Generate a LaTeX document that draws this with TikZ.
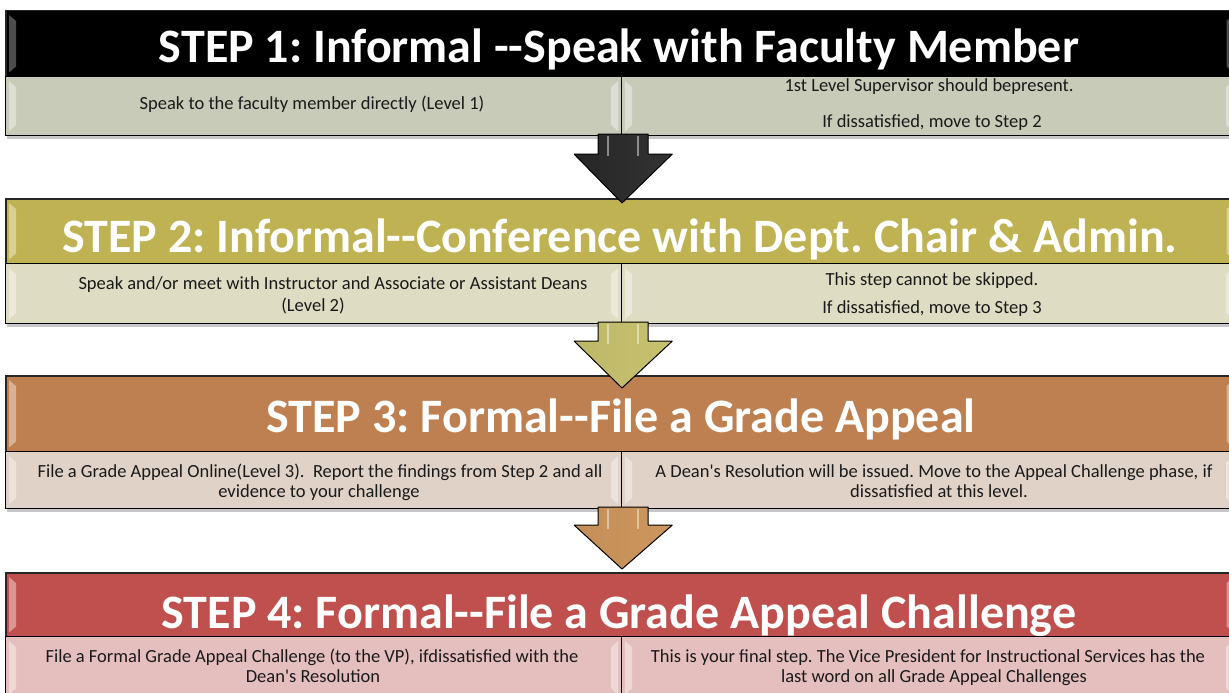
\documentclass[tikz,border=0pt]{standalone}
\usepackage{fontspec}
\setmainfont{Carlito}[Ligatures=TeXOff]
\usetikzlibrary{calc}
\frenchspacing
\definecolor{hdrone}{HTML}{000000}
\definecolor{cellone}{HTML}{C7CBB8}
\definecolor{hdrtwo}{HTML}{BFB253}
\definecolor{celltwo}{HTML}{DEDCC2}
\definecolor{hdrthree}{HTML}{BE8050}
\definecolor{cellthree}{HTML}{E0D2C6}
\definecolor{hdrfour}{HTML}{C0504D}
\definecolor{cellfour}{HTML}{E5BFBE}
\definecolor{txtc}{HTML}{1A1A1A}
\definecolor{arrtwo}{HTML}{D2CC74}
\definecolor{arrthree}{HTML}{D89E62}
\newcommand\bevelL[2]{\fill[#2] ($(#1.north west)+(4,5)$) -- ($(#1.north west)+(11,11)$) -- ($(#1.south west)+(11,-11)$) -- ($(#1.south west)+(4,-5)$) -- cycle;}
\newcommand\bevelR[2]{\fill[#2] ($(#1.north east)+(-4,5)$) -- ($(#1.north east)+(-11,11)$) -- ($(#1.south east)+(-11,-11)$) -- ($(#1.south east)+(-4,-5)$) -- cycle;}
\begin{document}
\begin{tikzpicture}[x=1pt,y=-1pt,
  hdr/.style={draw=black!85, line width=1.5pt, anchor=north west, inner sep=0pt, minimum width=1231pt},
  cell/.style={draw=black, line width=1.2pt, anchor=north west, inner sep=0pt},
  shadowbox/.style={fill=black!40, opacity=0.55},
  gloss/.style={fill=white, opacity=0.4},
  darkgloss/.style={fill=white, opacity=0.3},
  htext/.style={text=white, anchor=base, inner sep=0pt, font=\fontsize{48}{50}\selectfont\bfseries},
  ctext/.style={text=txtc, anchor=base, inner sep=0pt, font=\fontsize{18.5}{20}\selectfont},
  arr/.style={draw=black, line width=1pt, line join=round},
  shine/.style={draw=white, line width=1.5pt, opacity=0.45}
]
\useasboundingbox (0,0) rectangle (1229,693);
\clip (0,0) rectangle (1229,693);
\fill[white] (0,0) rectangle (1229,693);

% shadows
\fill[shadowbox] (7,14) rectangle (1240,139);
\fill[shadowbox] (7,202) rectangle (1240,327);
\fill[shadowbox] (7,379) rectangle (1240,512);
\fill[shadowbox] (7,576) rectangle (1240,700);

% STEP 1
\node[hdr, fill=hdrone, minimum height=66pt] (h1) at (5,10) {};
\node[cell, fill=cellone, minimum width=616pt, minimum height=59pt] (l1) at (5,76) {};
\node[cell, fill=cellone, minimum width=615pt, minimum height=59pt] (r1) at (621,76) {};
% STEP 2
\node[hdr, fill=hdrtwo, minimum height=65pt] (h2) at (5,198) {};
\node[cell, fill=celltwo, minimum width=616pt, minimum height=60pt] (l2) at (5,263) {};
\node[cell, fill=celltwo, minimum width=615pt, minimum height=60pt] (r2) at (621,263) {};
% STEP 3
\node[hdr, fill=hdrthree, minimum height=76pt] (h3) at (5,375) {};
\node[cell, fill=cellthree, minimum width=616pt, minimum height=57pt] (l3) at (5,451) {};
\node[cell, fill=cellthree, minimum width=615pt, minimum height=57pt] (r3) at (621,451) {};
% STEP 4
\node[hdr, fill=hdrfour, minimum height=64pt] (h4) at (5,572) {};
\node[cell, fill=cellfour, minimum width=616pt, minimum height=62pt] (l4) at (5,636) {};
\node[cell, fill=cellfour, minimum width=615pt, minimum height=62pt] (r4) at (621,636) {};

% bevels
\bevelL{h1}{darkgloss}\bevelR{h1}{darkgloss}
\foreach \n in {h2,h3,h4}{\bevelL{\n}{gloss}\bevelR{\n}{gloss}}
\foreach \n in {l1,r1,l2,r2,l3,r3,l4,r4}{\bevelL{\n}{gloss}\bevelR{\n}{gloss}}

% header texts
\node[htext] (t1) at (619,63) {STEP 1: Informal --Speak with Faculty Member};
\node[htext] (t2) at (620,252) {STEP 2: Informal--Conference with Dept. Chair \& Admin.};
\node[htext] (t3) at (621,432) {STEP 3: Formal--File a Grade Appeal};
\node[htext] (t4) at (619,628) {STEP 4: Formal--File a Grade Appeal Challenge};

% cell texts
\node[ctext] (a1) at (312,110) {Speak to the faculty member directly (Level 1)};
\node[ctext] (b1) at (929,92) {1st Level Supervisor should bepresent.};
\node[ctext] (b1x) at (932,127) {If dissatisfied, move to Step 2};

\node[ctext] (a2) at (333,289) {Speak and/or meet with Instructor and Associate or Assistant Deans};
\node[ctext] (a2x) at (313,311) {(Level 2)};
\node[ctext] (b2) at (932,285) {This step cannot be skipped.};
\node[ctext] (b2x) at (932,313) {If dissatisfied, move to Step 3};

\node[ctext] (a3) at (320,477) {File a Grade Appeal Online(Level 3).\ \ Report the findings from Step 2 and all};
\node[ctext] (a3x) at (319,497) {evidence to your challenge};
\node[ctext] (b3) at (934,477) {A Dean's Resolution will be issued. Move to the Appeal Challenge phase, if};
\node[ctext] (b3x) at (939,497) {dissatisfied at this level.};

\node[ctext] (a4) at (312,662) {File a Formal Grade Appeal Challenge (to the VP), ifdissatisfied with the};
\node[ctext] (a4x) at (313,682) {Dean's Resolution};
\node[ctext] (b4) at (928,662) {This is your final step. The Vice President for Instructional Services has the};
\node[ctext] (b4x) at (934,682) {last word on all Grade Appeal Challenges};

% arrows
\coordinate (k1) at (622,203);
\coordinate (k2) at (622,388);
\coordinate (k3) at (622,569);
\draw[arr, left color=black!85, middle color=black, right color=black!80]
  ($(l1.south east)+(-24,-2)$) -- ($(l1.south east)+(-24,18)$) -- ($(l1.south east)+(-48,18)$) -- (k1)
  -- ($(l1.south east)+(50,18)$) -- ($(l1.south east)+(26,18)$) -- ($(l1.south east)+(26,-2)$) -- cycle;
\draw[shine] ($(l1.south east)+(-14,0)$) -- ($(l1.south east)+(-14,20)$);
\draw[shine] ($(l1.south east)+(16,0)$) -- ($(l1.south east)+(16,20)$);

\draw[arr, left color=arrtwo!90!black, middle color=arrtwo!45!white, right color=arrtwo!95!black]
  ($(l2.south east)+(-24,-2)$) -- ($(l2.south east)+(-24,17)$) -- ($(l2.south east)+(-48,17)$) -- (k2)
  -- ($(l2.south east)+(50,17)$) -- ($(l2.south east)+(26,17)$) -- ($(l2.south east)+(26,-2)$) -- cycle;
\draw[shine] ($(l2.south east)+(-14,0)$) -- ($(l2.south east)+(-14,20)$);
\draw[shine] ($(l2.south east)+(16,0)$) -- ($(l2.south east)+(16,20)$);

\draw[arr, left color=arrthree!90!black, middle color=arrthree!45!white, right color=arrthree!95!black]
  ($(l3.south east)+(-24,-2)$) -- ($(l3.south east)+(-24,16)$) -- ($(l3.south east)+(-48,16)$) -- (k3)
  -- ($(l3.south east)+(50,16)$) -- ($(l3.south east)+(26,16)$) -- ($(l3.south east)+(26,-2)$) -- cycle;
\draw[shine] ($(l3.south east)+(-14,0)$) -- ($(l3.south east)+(-14,20)$);
\draw[shine] ($(l3.south east)+(16,0)$) -- ($(l3.south east)+(16,20)$);
\end{tikzpicture}
\end{document}
